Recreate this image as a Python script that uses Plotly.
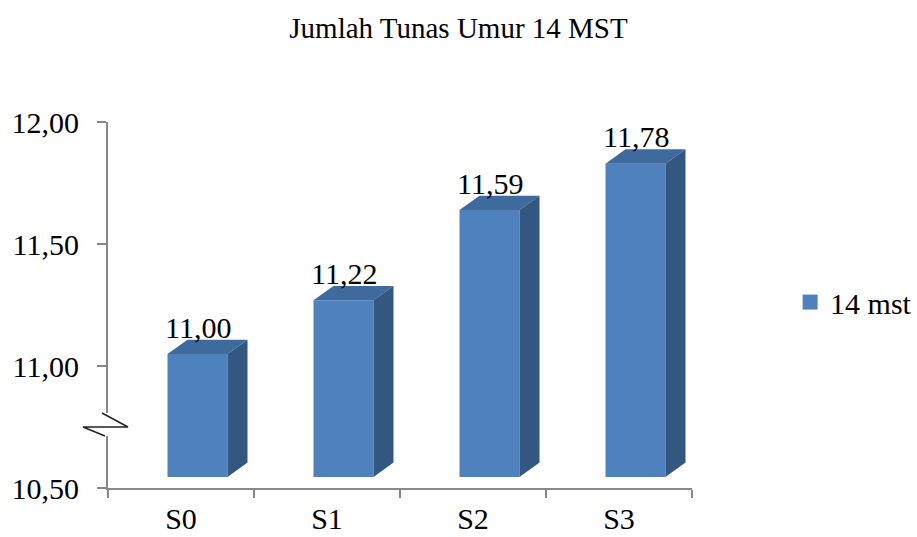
import plotly.graph_objects as go

# ---- data ----
categories = ["S0", "S1", "S2", "S3"]
values = [11.00, 11.22, 11.59, 11.78]
series_name = "14 mst"
title_text = "Jumlah Tunas Umur 14 MST"
y_ticks = [10.50, 11.00, 11.50, 12.00]
y_range = [10.50, 12.00]

# ---- style / 3D geometry ----
FONT = "Liberation Serif, serif"
FRONT = "#4F81BD"
TOP = "#3F6A9E"
SIDE = "#34577F"
AXIS = "#888888"
off = 0.113     # front face offset from category centre (x units)
w = 0.411       # front face width
dx = 0.137      # depth x
dy = 0.059      # depth y (value units)
lift = 0.049    # front top above value
floor = 10.545  # front bottom

fig = go.Figure()
xs = list(range(len(categories)))

for i, v in zip(xs, values):
    x0 = i + off - w / 2
    x1 = i + off + w / 2
    y0 = floor
    y1 = v + lift
    # front face
    fig.add_trace(go.Scatter(x=[x0, x1, x1, x0, x0], y=[y0, y0, y1, y1, y0],
                             fill="toself", fillcolor=FRONT, mode="lines",
                             line=dict(width=0, color=FRONT), hoverinfo="skip",
                             showlegend=False))
    # top face
    fig.add_trace(go.Scatter(x=[x0, x1, x1 + dx, x0 + dx, x0],
                             y=[y1, y1, y1 + dy, y1 + dy, y1],
                             fill="toself", fillcolor=TOP, mode="lines",
                             line=dict(width=0, color=TOP), hoverinfo="skip",
                             showlegend=False))
    # side face
    fig.add_trace(go.Scatter(x=[x1, x1 + dx, x1 + dx, x1, x1],
                             y=[y0, y0 + dy, y1 + dy, y1, y0],
                             fill="toself", fillcolor=SIDE, mode="lines",
                             line=dict(width=0, color=SIDE), hoverinfo="skip",
                             showlegend=False))
    fig.add_annotation(x=i + off, y=v + lift + dy, xref="x", yref="y",
                       text=f"{v:.2f}".replace(".", ","), showarrow=False,
                       yanchor="bottom", yshift=-6,
                       font=dict(family=FONT, size=30, color="black"))

# legend entry
fig.add_trace(go.Scatter(x=[None], y=[None], mode="markers", name=series_name,
                         marker=dict(symbol="square", size=15, color=FRONT)))

# axis break marker (around 10.75)
def px2paper(px):
    return (px - 108) / 584

def py2val(py):
    return 10.5 + (488 - py) / 244

fig.add_shape(type="rect", xref="paper", yref="y",
              x0=px2paper(100), x1=px2paper(118), y0=py2val(436), y1=py2val(413),
              fillcolor="white", line=dict(width=0), layer="above")
pts = [(102, 413), (128, 427), (83, 427), (105, 436)]
path = "M " + " L ".join(f"{px2paper(a)},{py2val(b)}" for a, b in pts)
fig.add_shape(type="path", xref="paper", yref="y", path=path,
              line=dict(color="#222222", width=1.5), layer="above")

fig.update_layout(
    width=917, height=537,
    margin=dict(l=108, r=225, t=122, b=49, autoexpand=False),
    paper_bgcolor="white", plot_bgcolor="white",
    separators=",.",
    title=dict(text=title_text, x=0.5, xanchor="center", y=0.948, yanchor="middle",
               font=dict(family=FONT, size=29, color="black")),
    font=dict(family=FONT, color="black"),
    showlegend=True,
    legend=dict(x=1.168, xanchor="left", y=0.508, yanchor="middle",
                font=dict(family=FONT, size=30, color="black"),
                bgcolor="rgba(0,0,0,0)"),
    xaxis=dict(range=[-0.5, 3.5], tickmode="array", tickvals=xs, ticktext=categories,
               ticks="", showgrid=False, zeroline=False, showline=True,
               linecolor=AXIS, linewidth=2, ticklabelstandoff=3, automargin=False,
               tickfont=dict(family=FONT, size=30, color="black"),
               minor=dict(tickmode="array", tickvals=[-0.5, 0.5, 1.5, 2.5, 3.5],
                          ticks="outside", ticklen=8, tickcolor=AXIS, tickwidth=2,
                          showgrid=False)),
    yaxis=dict(range=y_range, tickmode="array", tickvals=y_ticks, tickformat=".2f",
               ticks="outside", ticklen=9, tickcolor=AXIS, tickwidth=2,
               showgrid=False, zeroline=False, showline=True, linecolor=AXIS,
               linewidth=2, ticklabelstandoff=12, automargin=False,
               tickfont=dict(family=FONT, size=30, color="black")),
)

fig.write_html("out.html")
